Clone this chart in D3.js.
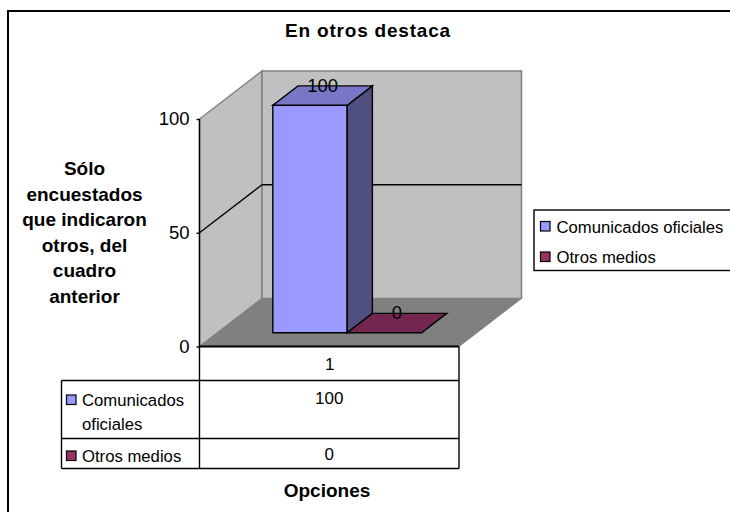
<!DOCTYPE html>
<html>
<head>
<meta charset="utf-8">
<script src="https://cdn.jsdelivr.net/npm/d3@7"></script>
<style>
html, body { margin: 0; padding: 0; background: #fff; overflow: hidden; }
text { font-family: "Liberation Sans", Arial, sans-serif; fill: #000; }
</style>
</head>
<body>
<div id="chart"></div>
<script>
var title = "En otros destaca";
var yTitle = ["Sólo", "encuestados", "que indicaron", "otros, del", "cuadro", "anterior"];
var xTitle = "Opciones";
var categories = ["1"];
var seriesNames = ["Comunicados oficiales", "Otros medios"];
var seriesValues = [100, 0];
var seriesColors = ["#9999FF", "#993366"];
var yTicks = [0, 50, 100];

function init() {
    var w = 730, h = 512;
    var fs = 16.7, fsBold = 19, fsBig = 18.5;

    var svg = d3.select("#chart").append("svg")
        .attr("width", w)
        .attr("height", h)
        .style("display", "block");

    // outer frame
    svg.append("rect")
        .attr("x", 8).attr("y", 11)
        .attr("width", 740).attr("height", 520)
        .attr("fill", "#fff")
        .attr("stroke", "#000")
        .attr("stroke-width", 2);

    var x0 = 199.5, plotW = 259.5, floorY = 346.5;
    var depthX = 62.5, depthY = 48;

    var y = d3.scaleLinear().domain([0, 100]).range([floorY, 119]);
    var band = d3.scaleBand().domain(seriesNames).range([0, plotW]).paddingOuter(0.744).paddingInner(0);

    // 3d projection: px along the front, value, depth 0..1
    function pr(px, v, d) {
        return [x0 + px + depthX * d, y(v) - depthY * d];
    }
    function poly(pts, fill, stroke, sw) {
        svg.append("polygon")
            .attr("points", pts.map(function(p) { return p.join(","); }).join(" "))
            .attr("fill", fill)
            .attr("stroke", stroke)
            .attr("stroke-width", sw)
            .attr("stroke-linejoin", "miter");
    }
    function seg(a, b, color, sw) {
        svg.append("line")
            .attr("x1", a[0]).attr("y1", a[1])
            .attr("x2", b[0]).attr("y2", b[1])
            .attr("stroke", color)
            .attr("stroke-width", sw);
    }

    var top = y.domain()[1];

    // walls and floor
    poly([pr(0, 0, 0), pr(0, 0, 1), pr(0, top, 1), pr(0, top, 0)], "#C0C0C0", "#808080", 1.5);
    poly([pr(0, 0, 1), pr(plotW, 0, 1), pr(plotW, top, 1), pr(0, top, 1)], "#C0C0C0", "#808080", 1.5);
    poly([pr(0, 0, 0), pr(plotW, 0, 0), pr(plotW, 0, 1), pr(0, 0, 1)], "#808080", "#808080", 1);

    // gridlines
    yTicks.filter(function(t) { return t > 0 && t < top; }).forEach(function(t) {
        seg(pr(0, t, 0), pr(0, t, 1), "#000", 1.4);
        seg(pr(0, t, 1), pr(plotW, t, 1), "#000", 1.4);
    });

    // bars
    var d1 = 0.2875, d2 = 0.69;
    var darker = {
        "Comunicados oficiales": { top: "#7777C6", side: "#4F4F80" },
        "Otros medios": { top: "#732650", side: "#4D1A33" }
    };
    seriesNames.forEach(function(name, i) {
        var v = seriesValues[i];
        var a = band(name), b = a + band.bandwidth();
        if (v > 0) {
            poly([pr(a, v, d1), pr(b, v, d1), pr(b, 0, d1), pr(a, 0, d1)], seriesColors[i], "#000", 1.4);
            poly([pr(b, 0, d1), pr(b, 0, d2), pr(b, v, d2), pr(b, v, d1)], darker[name].side, "#000", 1.4);
        }
        poly([pr(a, v, d1), pr(b, v, d1), pr(b, v, d2), pr(a, v, d2)], darker[name].top, "#000", 1.4);
        svg.append("text")
            .attr("x", (pr(a, v, d1)[0] + pr(b, v, d2)[0]) / 2)
            .attr("y", pr(a, v, d2)[1] + 6)
            .attr("text-anchor", "middle")
            .attr("font-size", fsBig)
            .text(v);
    });

    // y axis
    seg([x0, floorY], [x0, y(top)], "#000", 1.4);
    var axis = d3.axisLeft(y).tickValues(yTicks).tickSize(3).tickSizeOuter(0).tickPadding(7);
    var axisG = svg.append("g").attr("transform", "translate(" + x0 + ",0)").call(axis);
    axisG.select(".domain").remove();
    axisG.selectAll("line").attr("stroke-width", 1.4);
    axisG.selectAll("text").attr("font-size", fsBig).attr("font-family", null);

    // data table
    var tL = 61.5, tM = 199.5, tR = 459;
    var rows = [346.5, 380.5, 438.5, 468.5];
    seg([tM, rows[0]], [tR, rows[0]], "#000", 2);
    seg([tL, rows[1]], [tR, rows[1]], "#000", 1.4);
    seg([tL, rows[2]], [tR, rows[2]], "#000", 1.4);
    seg([tL, rows[3]], [tR, rows[3]], "#000", 1.4);
    seg([tL, rows[1]], [tL, rows[3]], "#000", 1.4);
    seg([tM, rows[0]], [tM, rows[3]], "#000", 1.4);
    seg([tR, rows[0]], [tR, rows[3]], "#000", 1.4);

    var mid = (tM + tR) / 2;
    function label(txt, xx, yy, anchor, bold, size) {
        return svg.append("text")
            .attr("x", xx).attr("y", yy)
            .attr("text-anchor", anchor)
            .attr("font-size", size || (bold ? fsBold : fs))
            .attr("font-weight", bold ? "bold" : "normal")
            .text(txt);
    }
    function swatch(xx, yy, color) {
        svg.append("rect")
            .attr("x", xx).attr("y", yy)
            .attr("width", 9.5).attr("height", 9.5)
            .attr("fill", color)
            .attr("stroke", "#000")
            .attr("stroke-width", 1.2);
    }

    label(categories[0], mid + 0.5, 369.5, "middle", false, 17);
    label(seriesValues[0], mid, 404, "middle", false, 17);
    label(seriesValues[1], mid, 460, "middle", false, 17);

    swatch(66.5, 395, seriesColors[0]);
    label("Comunicados", 82, 406, "start");
    label("oficiales", 82, 430, "start");
    swatch(66.5, 451, seriesColors[1]);
    label(seriesNames[1], 82, 462, "start");

    // legend
    svg.append("rect")
        .attr("x", 534).attr("y", 210)
        .attr("width", 210).attr("height", 60.5)
        .attr("fill", "#fff")
        .attr("stroke", "#000")
        .attr("stroke-width", 1.4);
    seriesNames.forEach(function(name, i) {
        swatch(540.5, 221.5 + i * 30.5, seriesColors[i]);
        label(name, 556.5, 232.5 + i * 30.5, "start");
    });

    // titles
    label(title, 368, 37, "middle", true).style("letter-spacing", "0.8px");
    label(xTitle, 327, 496.5, "middle", true);
    yTitle.forEach(function(t, i) {
        label(t, 84.5, 175 + i * 25.5, "middle", true);
    });
}

window.onload = init;
</script>
</body>
</html>
